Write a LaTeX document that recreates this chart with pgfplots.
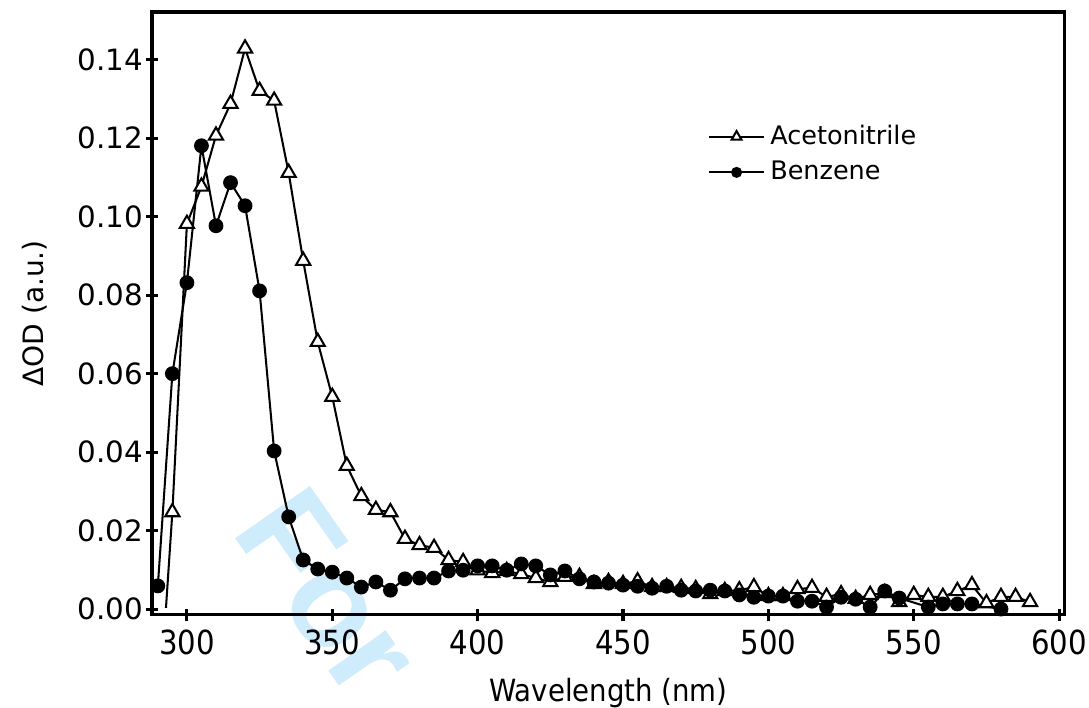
\documentclass[border=0pt]{standalone}
\usepackage{fontspec}
\setmainfont{DejaVu Sans}
\newfontfamily\wmfont{Liberation Sans}
\usepackage{graphicx}
\usepackage{pgfplots}
\pgfplotsset{compat=1.18}
\usetikzlibrary{backgrounds}
\definecolor{wmblue}{RGB}{206,236,252}

\pgfplotstableread{
x y
295 0.0247
300 0.0982
305 0.1077
310 0.1207
315 0.1288
320 0.1429
325 0.1321
330 0.1296
335 0.1112
340 0.0888
345 0.0681
350 0.0541
355 0.0365
360 0.0288
365 0.0253
370 0.0247
375 0.0179
380 0.0163
385 0.0156
390 0.0125
395 0.0120
400 0.0099
405 0.0092
410 0.0097
415 0.0089
420 0.0079
425 0.0069
430 0.0082
435 0.0082
440 0.0064
445 0.0069
450 0.0064
455 0.0071
460 0.0056
465 0.0056
470 0.0054
475 0.0051
480 0.0038
485 0.0046
490 0.0048
495 0.0056
500 0.0033
505 0.0033
510 0.0051
515 0.0054
520 0.0031
525 0.0038
530 0.0026
535 0.0036
540 0.0041
545 0.0018
550 0.0036
555 0.0031
560 0.0031
565 0.0046
570 0.0061
575 0.0015
580 0.0031
585 0.0031
590 0.0018
}\acetonitrile

\pgfplotstableread{
x y
290 0.0059
295 0.0600
300 0.0832
305 0.1181
310 0.0977
315 0.1087
320 0.1028
325 0.0811
330 0.0403
335 0.0235
340 0.0125
345 0.0102
350 0.0094
355 0.0079
360 0.0056
365 0.0069
370 0.0048
375 0.0077
380 0.0079
385 0.0079
390 0.0097
395 0.0099
400 0.0110
405 0.0110
410 0.0099
415 0.0115
420 0.0110
425 0.0087
430 0.0097
435 0.0077
440 0.0069
445 0.0066
450 0.0061
455 0.0058
460 0.0053
465 0.0058
470 0.0048
475 0.0046
480 0.0048
485 0.0046
490 0.0036
495 0.0030
500 0.0033
505 0.0033
510 0.0020
515 0.0020
520 0.0005
525 0.0030
530 0.0025
535 0.0005
540 0.0046
545 0.0028
555 0.0005
560 0.0013
565 0.0013
570 0.0013
580 0.0000
}\benzene

\begin{document}
\begin{tikzpicture}
\begin{axis}[
  name=ax,
  scale only axis,
  width=12.575cm, height=8.305cm,
  xmin=288, xmax=602,
  ymin=-0.0015, ymax=0.1522,
  xtick={300,350,...,600},
  ytick={0,0.02,...,0.14},
  xtick pos=bottom, ytick pos=left,
  tick align=center,
  major tick length=5pt,
  axis line style={line width=1.2pt},
  major tick style={line width=1.2pt,black},
  yticklabel style={font=\fontsize{11.5}{13}\selectfont, xshift=2.5pt,
    /pgf/number format/.cd,fixed,fixed zerofill,precision=2},
  xticklabel style={font=\fontsize{13}{15}\selectfont},
  xticklabel={\scalebox{0.88}[1]{\pgfmathprintnumber{\tick}}},
  /pgf/number format/assume math mode=true,
  scaled y ticks=false,
  xlabel={\scalebox{0.9}[1]{Wavelength (nm)}},
  xlabel style={font=\fontsize{12}{14}\selectfont, yshift=-2pt},
  ylabel={ΔOD (a.u.)},
  ylabel style={font=\fontsize{11}{13}\selectfont, yshift=5pt},
  clip=false,
  legend style={draw=none, fill=none, at={(0.6,0.83)}, anchor=north west,
    font=\fontsize{10}{12}\selectfont, row sep=1pt},
  legend cell align=left,
  legend image code/.code={%
    \draw[mark repeat=2,mark phase=2,every mark/.append style={scale=0.7}]
      plot coordinates {(0cm,0cm) (0.38cm,0cm) (0.76cm,0cm)};},
]
\addplot[black, line width=0.8pt, forget plot] coordinates {(292.8,0.0003) (295,0.0247)};
\addplot[black, line width=0.8pt, mark=triangle*, mark size=3.2pt,
  mark options={fill=white, line width=0.8pt}] table {\acetonitrile};
\addplot[black, line width=0.8pt, mark=*, mark size=2.5pt,
  mark options={fill=black}] table {\benzene};
\legend{Acetonitrile, Benzene}
\end{axis}
\begin{scope}[on background layer]
\node[font=\wmfont\bfseries\fontsize{52}{52}\selectfont, text=wmblue,
  anchor=base west, rotate=-55, inner sep=0pt]
  at ([xshift=1.08cm,yshift=1.16cm]ax.south west) {For};
\end{scope}
\pgfresetboundingbox
\path[use as bounding box] ([xshift=-2.094cm,yshift=-1.281cm]ax.south west) rectangle ([xshift=0.331cm,yshift=0.165cm]ax.north east);
\end{tikzpicture}
\end{document}
